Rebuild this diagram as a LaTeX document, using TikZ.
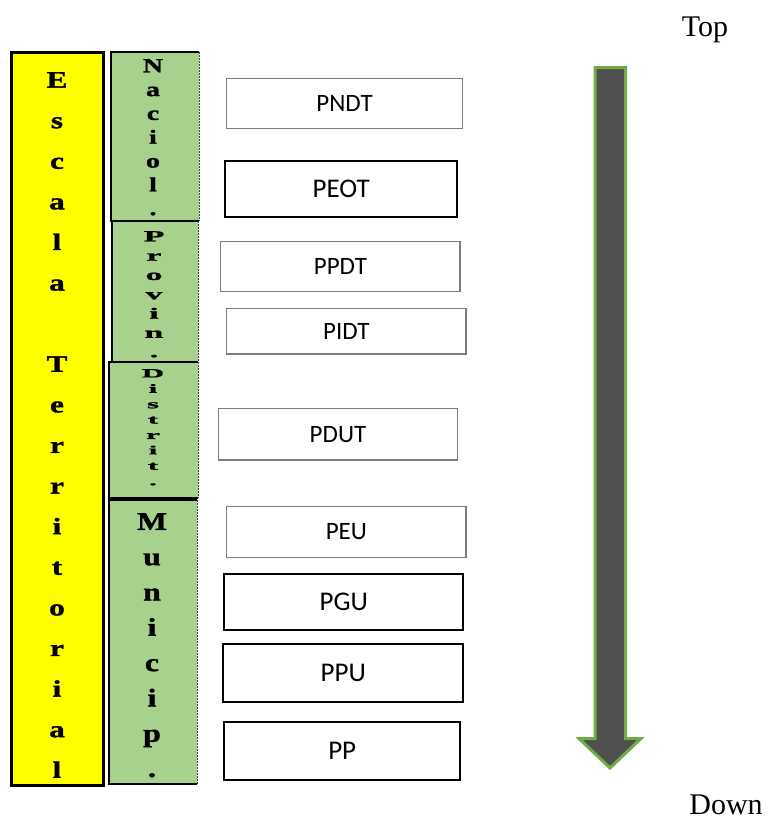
\documentclass[tikz,border=0pt]{standalone}
\usepackage{fontspec}
\setmainfont{Liberation Serif}
\newfontfamily\boxfont{Carlito}
\newfontfamily\colserif{Liberation Serif Bold}[FakeBold=1.4]
\usepackage{tikz}
\usetikzlibrary{positioning}
\definecolor{myyellow}{RGB}{255, 255, 0}
\definecolor{mygreen}{RGB}{169, 209, 142}
\definecolor{arrowgray}{RGB}{80, 80, 80}
\definecolor{arrowedge}{RGB}{112, 173, 71}
\definecolor{boxgray}{RGB}{125, 125, 125}
\newcommand{\colfnt}[3]{\colserif\addfontfeatures{FakeStretch=#3}\fontsize{#1}{#2}\selectfont}

\begin{document}
\begin{tikzpicture}[x=1pt, y=-1pt, every node/.style={inner sep=0pt},
    yelcol/.style={draw=black, fill=myyellow, line width=3pt},
    grncol/.style={fill=mygreen},
    grnline/.style={draw=black, line width=2.5pt},
    grndash/.style={draw=black!75, line width=0.8pt, dash pattern=on 2pt off 1pt},
    colword/.style={anchor=north, align=center},
    grybox/.style={draw=boxgray, line width=1.4pt, fill=white, font=\boxfont\fontsize{25}{28}\selectfont},
    blkbox/.style={draw=black, line width=2pt, fill=white, font=\boxfont\fontsize{27}{32}\selectfont},
    bigarrow/.style={draw=arrowedge, fill=arrowgray, line width=3pt, line join=miter}]
    \useasboundingbox (0,0) rectangle (768,820);

    % left column
    \node[yelcol, minimum width=92, minimum height=733] (esc) at (57,418.5) {};
    \node[colword, font=\colfnt{23.5}{40.6}{1.33}] (escw) at (57,72)
        {E\\s\\c\\a\\l\\a\\[40.6pt]T\\e\\r\\r\\i\\t\\o\\r\\i\\a\\l};

    % levels
    \node[grncol, minimum width=88, minimum height=169] (nac) at (155,136.5) {};
    \node[grncol, minimum width=86, minimum height=141] (prov) at (155,291.5) {};
    \node[grncol, minimum width=89, minimum height=136] (dist) at (153.5,430) {};
    \node[grncol, minimum width=88, minimum height=284] (mun) at (153,642) {};
    \foreach \s in {nac,prov,dist,mun} {
        \draw[grnline] (\s.north east) -- (\s.north west) -- (\s.south west) -- (\s.south east);
        \draw[grndash] (\s.north east) -- (\s.south east);
    }
    \node[colword, font=\colfnt{20}{23.8}{1.4}] (nacw) at (153,59) {N\\a\\c\\i\\o\\l\\.};
    \node[colword, font=\colfnt{15.5}{19.3}{2.2}] (provw) at (154,231) {P\\r\\o\\v\\i\\n\\.};
    \node[colword, font=\colfnt{12.5}{15.4}{2.5}] (distw) at (153,369) {D\\i\\s\\t\\r\\i\\t\\.};
    \node[colword, font=\colfnt{25.5}{35.3}{1.25}] (munw) at (152,513) {M\\u\\n\\i\\c\\i\\p\\.};

    % plans
    \node[grybox, minimum width=235.6, minimum height=50] (pndt) at (344.5,103.3) {PNDT};
    \node[blkbox, minimum width=232.3, minimum height=56] (peot) at (341.2,188.7) {PEOT};
    \node[grybox, minimum width=239.3, minimum height=50] (ppdt) at (340.4,266.7) {PPDT};
    \node[grybox, minimum width=239.3, minimum height=45.7] (pidt) at (346.4,331.2) {PIDT};
    \node[grybox, minimum width=239.4, minimum height=51.7] (pdut) at (338,434.2) {PDUT};
    \node[grybox, minimum width=239.3, minimum height=50.6] (peu) at (346.4,532) {PEU};
    \node[blkbox, minimum width=239, minimum height=56] (pgu) at (343.8,602) {PGU};
    \node[blkbox, minimum width=240, minimum height=57.4] (ppu) at (343.3,673) {PPU};
    \node[blkbox, minimum width=235.7, minimum height=58.3] (pp) at (342.2,750.9) {PP};

    % scale arrow
    \draw[bigarrow] (595,67.5) -- (625.5,67.5) -- (625.5,738.5) -- (641,738.5)
        -- (610,768) -- (579,738.5) -- (595,738.5) -- cycle;
    \node[anchor=base, font=\fontsize{30}{36}\selectfont] (top) at (705,36) {Top};
    \node[anchor=base, font=\fontsize{30}{36}\selectfont] (down) at (726,814) {Down};

\end{tikzpicture}
\end{document}
